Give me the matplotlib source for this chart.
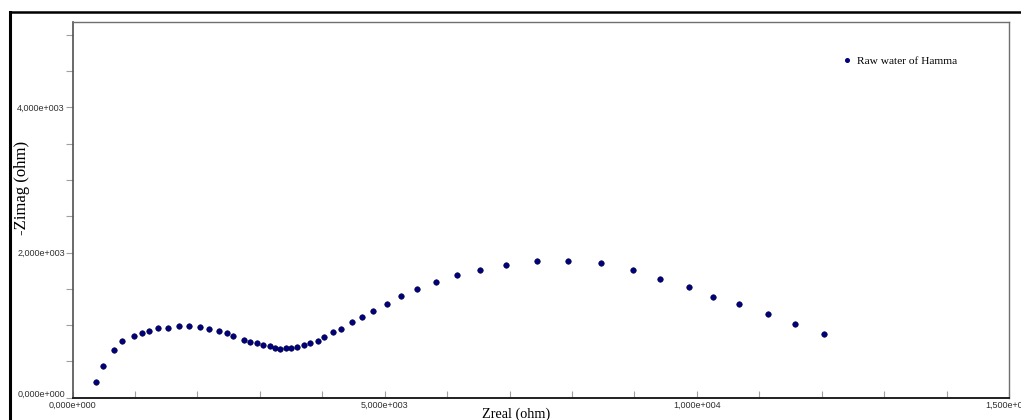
import numpy as np
import matplotlib.pyplot as plt
import matplotlib.transforms as mtransforms
from matplotlib.ticker import MultipleLocator, FuncFormatter
from matplotlib.lines import Line2D

# Nyquist data: real and (negative) imaginary impedance, ohm
zreal = [369, 494, 670, 798, 981, 1109, 1226, 1375, 1535, 1712, 1872, 2038,
         2188, 2343, 2476, 2577, 2753, 2849, 2952, 3053, 3165, 3245, 3325,
         3417, 3502, 3603, 3705, 3806, 3934, 4035, 4170, 4308, 4471, 4644,
         4821, 5035, 5260, 5521, 5825, 6162, 6530, 6936, 7433, 7941, 8458,
         8971, 9410, 9880, 10253, 10676, 11146, 11567, 12032]
zimag = [216, 441, 653, 777, 850, 887, 923, 960, 960, 988, 988, 974,
         946, 923, 887, 850, 799, 771, 749, 726, 708, 685, 671,
         685, 685, 698, 726, 749, 785, 836, 901, 946, 1036, 1109,
         1194, 1295, 1398, 1493, 1594, 1690, 1763, 1828, 1879, 1879, 1851,
         1763, 1639, 1521, 1383, 1287, 1149, 1011, 873]
series_name = "Raw water of Hamma"

W, H = 1021, 420
fig = plt.figure(figsize=(W / 100, H / 100), dpi=100)
ax = fig.add_axes([72.5 / W, 1 - 397.7 / H, (1009 - 72.5) / W, (397.7 - 22) / H])

navy = "#00007a"
ax.plot(zreal, zimag, "o", color=navy, markersize=4.0, markeredgewidth=0.4,
        markeredgecolor="#000040", linestyle="none")

ax.set_xlim(0, 15000)
ax.set_ylim(0, 5175)

sci = FuncFormatter(lambda v, p: ("%.3e" % v).replace(".", ",").replace("e+0", "e+00")
                    if v != 0 else "0,000e+000")
ax.xaxis.set_major_locator(MultipleLocator(5000))
ax.xaxis.set_minor_locator(MultipleLocator(1000))
ax.yaxis.set_major_locator(MultipleLocator(2000))
ax.yaxis.set_minor_locator(MultipleLocator(500))
ax.xaxis.set_major_formatter(sci)
ax.yaxis.set_major_formatter(sci)

ax.tick_params(axis="x", which="both", direction="in", length=5, width=0.8,
               color="#a0a0a0", pad=2, labelcolor="#303030")
ax.tick_params(axis="y", which="both", direction="out", length=5, width=0.8,
               color="#a0a0a0", pad=0.5, labelcolor="#303030")

fig.canvas.draw()
for lab in ax.get_xticklabels() + ax.get_yticklabels():
    lab.set_fontfamily(["Liberation Sans", "DejaVu Sans"])
    lab.set_fontsize(6.5)
# lift the zero label on the y axis clear of the x labels
up = mtransforms.ScaledTranslation(0, 4 / 100, fig.dpi_scale_trans)
for tk in ax.yaxis.get_major_ticks():
    if abs(tk.get_loc()) < 1e-9:
        tk.label1.set_transform(tk.label1.get_transform() + up)

for side in ["top", "right"]:
    ax.spines[side].set_color("#707070")
    ax.spines[side].set_linewidth(1.0)
ax.spines["left"].set_color("#505050")
ax.spines["left"].set_linewidth(1.2)
ax.spines["bottom"].set_color("#202020")
ax.spines["bottom"].set_linewidth(1.4)

serif = ["Liberation Serif", "DejaVu Serif"]
fig.text(516 / W, 1 - 414 / H, "Zreal (ohm)", family=serif, fontsize=10.3,
         ha="center", va="center")
fig.text(22 / W, 1 - 188 / H, "-Zimag (ohm)", family=serif, fontsize=12,
         rotation=90, ha="center", va="center")

# legend entry
ax.legend(handles=[Line2D([], [], marker="o", color=navy, linestyle="none",
                          markersize=2.6)],
          labels=[series_name], loc="upper left",
          bbox_to_anchor=(831 / W, 1 - 46 / H), bbox_transform=fig.transFigure,
          frameon=False, handletextpad=0.4, handlelength=1.0,
          prop={"family": serif, "size": 8.2})

# outer frame lines
fig.add_artist(Line2D([10 / W, 10 / W], [0, 1 - 12 / H], color="black",
                      linewidth=2.2, transform=fig.transFigure))
fig.add_artist(Line2D([10 / W, 1.0], [1 - 12 / H, 1 - 12 / H], color="black",
                      linewidth=1.8, transform=fig.transFigure))

fig.savefig("out.png", dpi=100)
